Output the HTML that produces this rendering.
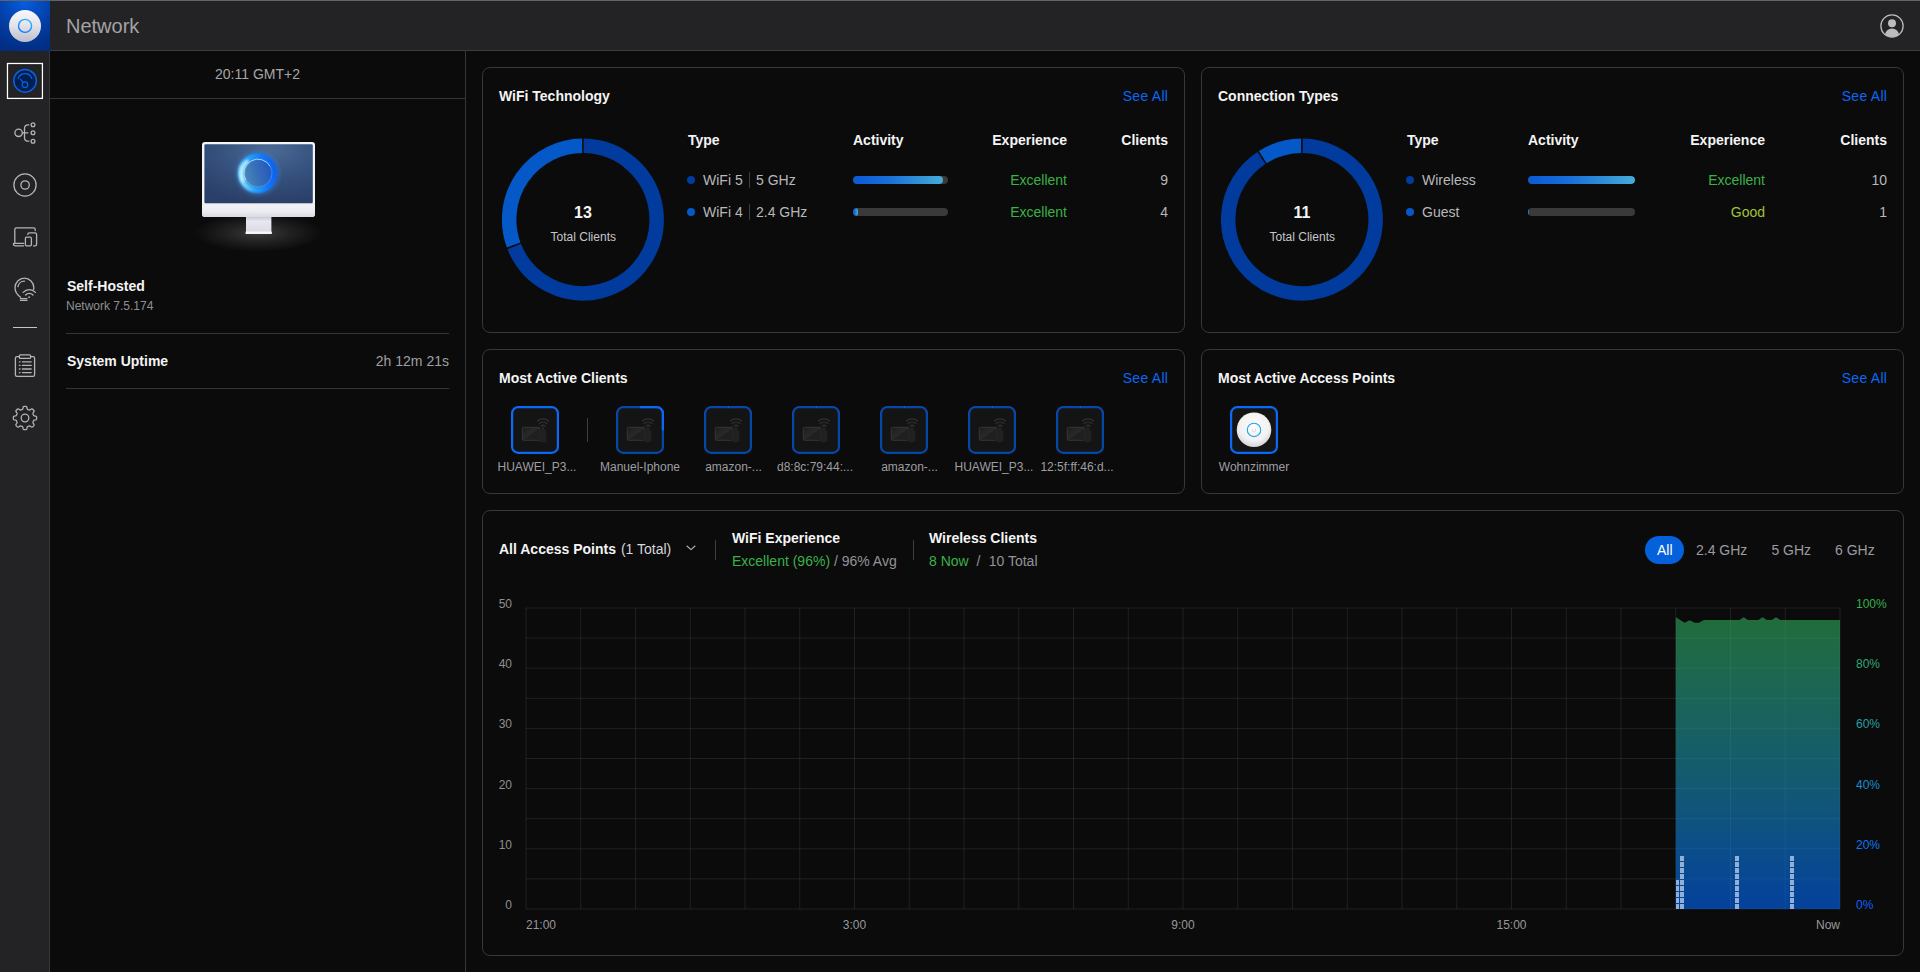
<!DOCTYPE html>
<html lang="en">
<head>
<meta charset="utf-8">
<title>Network</title>
<style>
*{box-sizing:border-box;margin:0;padding:0}
html,body{width:1920px;height:972px;overflow:hidden;background:#0b0b0b}
body{font-family:"Liberation Sans",sans-serif;font-size:14px;color:#f4f4f5;position:relative;-webkit-font-smoothing:antialiased}
.abs{position:absolute}
.t{position:absolute;white-space:nowrap;line-height:16px}
.b{font-weight:bold}
/* header */
#topline{left:0;top:0;width:1920px;height:1px;background:#626367}
#header{left:0;top:1px;width:1920px;height:50px;background:#232325;border-bottom:1px solid #3a3b41}
#logo{left:0;top:1px;width:50px;height:50px;background:radial-gradient(circle 58px at 50% 0%,#0560e0 0%,#044dc2 25%,#033da2 52%,#022f88 82%,#022b7e 100%)}
#sidebar{left:0;top:51px;width:50px;height:921px;background:#232325;border-right:1px solid #36373c}
#lp-border{left:465px;top:51px;width:1px;height:921px;background:#35363b}
.hl{position:absolute;height:1px;background:#35363b}
.card{position:absolute;border:1px solid #36373c;border-radius:8px}
.link{color:#0a68f5;letter-spacing:0.28px;margin-right:-0.28px}
.g{color:#9c9ca0}
.green{color:#39b24a}
.sep{position:absolute;width:1px;background:#3d3d42}
.track{position:absolute;height:8px;border-radius:4px;background:#3a3a3a;overflow:hidden}
.fill{position:absolute;left:0;top:0;height:8px;border-radius:4px;background:linear-gradient(90deg,#0a5ad6 0%,#1a6fd8 40%,#46acd8 100%)}
.dot{position:absolute;width:8px;height:8px;border-radius:50%}
.dev{position:absolute;width:48px;height:48px}
.lbl{position:absolute;font-size:12px;line-height:14px;color:#9e9ea2;white-space:nowrap;text-align:center;transform:translateX(-50%)}
.ax{position:absolute;font-size:12px;line-height:14px;color:#8e8e92;white-space:nowrap}
.g2{color:#939397}
.xl{color:#98989c}
</style>
</head>
<body>
<div class="abs" id="header"></div>
<div class="abs" id="topline"></div>
<div class="abs" id="logo"></div>
<div class="abs" id="sidebar"></div>
<div class="abs" id="lp-border"></div>
<!-- header content -->
<svg class="abs" style="left:0;top:1px" width="50" height="50" viewBox="0 0 50 50">
  <defs>
    <linearGradient id="lg1" x1="0" y1="0" x2="0" y2="1"><stop offset="0" stop-color="#f8f8fb"/><stop offset="0.5" stop-color="#e2e3e9"/><stop offset="1" stop-color="#bcbec9"/></linearGradient><linearGradient id="lg2" x1="0.2" y1="1" x2="0.8" y2="0"><stop offset="0" stop-color="#0a72ff"/><stop offset="1" stop-color="#38b8ff"/></linearGradient>
  </defs>
  <circle cx="25" cy="25" r="16" fill="url(#lg1)"/>
  <circle cx="25.05" cy="24.9" r="6.5" fill="none" stroke="url(#lg2)" stroke-width="1.4"/>
</svg>
<div class="t" style="left:66px;top:14px;font-size:20px;line-height:24px;color:#a3a3a6">Network</div>
<svg class="abs" style="left:1878.15px;top:12px" width="28" height="28" viewBox="0 0 28 28">
  <defs><clipPath id="uc"><circle cx="14" cy="14" r="11"/></clipPath></defs>
  <circle cx="14" cy="14" r="11.1" fill="none" stroke="#bcbcc0" stroke-width="1.3"/>
  <circle cx="14" cy="11.2" r="4" fill="#bcbcc0"/>
  <ellipse cx="14" cy="23.5" rx="7" ry="7" fill="#bcbcc0" clip-path="url(#uc)"/>
</svg>

<!-- sidebar icons -->
<svg class="abs" style="left:5px;top:61px" width="40" height="40" viewBox="5 61 40 40"><rect x="7.55" y="63.55" width="34.8" height="34.8" fill="none" stroke="#ffffff" stroke-width="1.4"/><rect x="8.7" y="64.7" width="32.5" height="32.5" fill="none" stroke="#0a0a0c" stroke-width="0.8" opacity="0.55"/></svg>
<svg class="abs" style="left:0;top:51px" width="50" height="400" viewBox="0 51 50 400" fill="none" stroke="#b4b4b8" stroke-width="1.3" stroke-linecap="round" stroke-linejoin="round">
  <!-- dashboard (active) -->
  <circle cx="25.05" cy="80.85" r="11.3" fill="#001f50" stroke="#0862e4" stroke-width="1.5"/>
  <circle cx="25" cy="84.7" r="2.8" stroke="#0862e4" stroke-width="1.2"/>
  <path d="M23.1 82.5 L20.5 79.2" stroke="#0862e4" stroke-width="1.2"/>
  <path d="M18.2 78.7 A7.1 7.1 0 0 1 31.8 78.7" stroke="#0862e4" stroke-width="1.2"/>
  <!-- topology -->
  <circle cx="18.6" cy="132.8" r="3.7"/>
  <circle cx="33" cy="124.8" r="1.9"/>
  <circle cx="33" cy="132.8" r="1.9"/>
  <circle cx="33" cy="141.2" r="1.9"/>
  <path d="M22.4 132.8 H27.9"/>
  <path d="M28.8 124.8 H28.2 Q24.5 124.8 24.5 128.6 V137.4 Q24.5 141.2 28.2 141.2 H28.8"/>
  <!-- disc -->
  <circle cx="25" cy="185" r="11.1"/>
  <circle cx="25.1" cy="185" r="4.2"/>
  <!-- devices -->
  <path d="M14.8 242.6 V229.4 Q14.8 227.8 16.4 227.8 H33.6 Q35.2 227.8 35.2 229.4 V230.6"/>
  <path d="M23.6 243.4 H14 Q13.4 243.4 13.4 244 Q13.4 245.8 15.2 245.8 H23.6"/>
  <path d="M27.8 234.4 Q27.8 232.8 29.4 232.8 H35 Q36.6 232.8 36.6 234.4 V244.2 Q36.6 245.8 35 245.8 H33.6"/>
  <rect x="25.4" y="237.2" width="6" height="8.6" rx="1.2"/>
  <!-- bulb/wifi -->
  <path d="M20.6 297.2 Q15 293.6 15 287.6 A9.4 9.4 0 0 1 33.8 287.6 Q33.8 288.6 33.6 289.4"/>
  <path d="M18 286.6 A6.4 6.4 0 0 1 24.4 281.2"/>
  <path d="M20.4 298.6 H27" stroke-width="1.2"/>
  <path d="M20.4 300.4 H27" stroke-width="1.2"/>
  <path d="M23.2 292.4 A8.2 8.2 0 0 1 35.4 292.4"/>
  <path d="M25.6 295 A4.9 4.9 0 0 1 33 295"/>
  <circle cx="29.2" cy="297.2" r="0.9" fill="#b4b4b8" stroke="none"/>
  <!-- divider -->
  <path d="M13 327.5 H37" stroke="#c4c4c8" stroke-width="1" stroke-linecap="butt"/>
  <!-- clipboard -->
  <path d="M19.4 356.6 H17 Q15.4 356.6 15.4 358.2 V374.8 Q15.4 376.4 17 376.4 H33 Q34.6 376.4 34.6 374.8 V358.2 Q34.6 356.6 33 356.6 H30.6"/>
  <rect x="19.4" y="354.8" width="11.2" height="3.6" rx="1"/>
  <path d="M22.4 361.8 H31.2 M22.4 365.4 H31.2 M22.4 369 H31.2 M22.4 372.6 H31.2"/>
  <path d="M19.4 361.8 H20 M19.4 365.4 H20 M19.4 369 H20 M19.4 372.6 H20"/>
  <!-- gear -->
  <circle cx="25" cy="418" r="3.8"/>
  <path d="M25.00 406.35 L25.30 406.36 L25.61 406.37 L25.91 406.41 L26.21 406.48 L26.50 406.62 L26.75 406.93 L26.94 407.52 L27.07 408.28 L27.19 408.87 L27.36 409.19 L27.56 409.35 L27.77 409.46 L27.99 409.56 L28.21 409.64 L28.43 409.73 L28.64 409.82 L28.86 409.91 L29.07 410.00 L29.30 410.08 L29.56 410.10 L29.91 409.99 L30.41 409.67 L31.04 409.21 L31.59 408.93 L31.99 408.90 L32.29 409.00 L32.55 409.16 L32.79 409.35 L33.02 409.55 L33.24 409.76 L33.45 409.98 L33.65 410.21 L33.84 410.45 L34.00 410.71 L34.10 411.01 L34.07 411.41 L33.79 411.96 L33.33 412.59 L33.01 413.09 L32.90 413.44 L32.92 413.70 L33.00 413.93 L33.09 414.14 L33.18 414.36 L33.27 414.57 L33.36 414.79 L33.44 415.01 L33.54 415.23 L33.65 415.44 L33.81 415.64 L34.13 415.81 L34.72 415.93 L35.48 416.06 L36.07 416.25 L36.38 416.50 L36.52 416.79 L36.59 417.09 L36.63 417.39 L36.64 417.70 L36.65 418.00 L36.64 418.30 L36.63 418.61 L36.59 418.91 L36.52 419.21 L36.38 419.50 L36.07 419.75 L35.48 419.94 L34.72 420.07 L34.13 420.19 L33.81 420.36 L33.65 420.56 L33.54 420.77 L33.44 420.99 L33.36 421.21 L33.27 421.43 L33.18 421.64 L33.09 421.86 L33.00 422.07 L32.92 422.30 L32.90 422.56 L33.01 422.91 L33.33 423.41 L33.79 424.04 L34.07 424.59 L34.10 424.99 L34.00 425.29 L33.84 425.55 L33.65 425.79 L33.45 426.02 L33.24 426.24 L33.02 426.45 L32.79 426.65 L32.55 426.84 L32.29 427.00 L31.99 427.10 L31.59 427.07 L31.04 426.79 L30.41 426.33 L29.91 426.01 L29.56 425.90 L29.30 425.92 L29.07 426.00 L28.86 426.09 L28.64 426.18 L28.43 426.27 L28.21 426.36 L27.99 426.44 L27.77 426.54 L27.56 426.65 L27.36 426.81 L27.19 427.13 L27.07 427.72 L26.94 428.48 L26.75 429.07 L26.50 429.38 L26.21 429.52 L25.91 429.59 L25.61 429.63 L25.30 429.64 L25.00 429.65 L24.70 429.64 L24.39 429.63 L24.09 429.59 L23.79 429.52 L23.50 429.38 L23.25 429.07 L23.06 428.48 L22.93 427.72 L22.81 427.13 L22.64 426.81 L22.44 426.65 L22.23 426.54 L22.01 426.44 L21.79 426.36 L21.57 426.27 L21.36 426.18 L21.14 426.09 L20.93 426.00 L20.70 425.92 L20.44 425.90 L20.09 426.01 L19.59 426.33 L18.96 426.79 L18.41 427.07 L18.01 427.10 L17.71 427.00 L17.45 426.84 L17.21 426.65 L16.98 426.45 L16.76 426.24 L16.55 426.02 L16.35 425.79 L16.16 425.55 L16.00 425.29 L15.90 424.99 L15.93 424.59 L16.21 424.04 L16.67 423.41 L16.99 422.91 L17.10 422.56 L17.08 422.30 L17.00 422.07 L16.91 421.86 L16.82 421.64 L16.73 421.43 L16.64 421.21 L16.56 420.99 L16.46 420.77 L16.35 420.56 L16.19 420.36 L15.87 420.19 L15.28 420.07 L14.52 419.94 L13.93 419.75 L13.62 419.50 L13.48 419.21 L13.41 418.91 L13.37 418.61 L13.36 418.30 L13.35 418.00 L13.36 417.70 L13.37 417.39 L13.41 417.09 L13.48 416.79 L13.62 416.50 L13.93 416.25 L14.52 416.06 L15.28 415.93 L15.87 415.81 L16.19 415.64 L16.35 415.44 L16.46 415.23 L16.56 415.01 L16.64 414.79 L16.73 414.57 L16.82 414.36 L16.91 414.14 L17.00 413.93 L17.08 413.70 L17.10 413.44 L16.99 413.09 L16.67 412.59 L16.21 411.96 L15.93 411.41 L15.90 411.01 L16.00 410.71 L16.16 410.45 L16.35 410.21 L16.55 409.98 L16.76 409.76 L16.98 409.55 L17.21 409.35 L17.45 409.16 L17.71 409.00 L18.01 408.90 L18.41 408.93 L18.96 409.21 L19.59 409.67 L20.09 409.99 L20.44 410.10 L20.70 410.08 L20.93 410.00 L21.14 409.91 L21.36 409.82 L21.57 409.73 L21.79 409.64 L22.01 409.56 L22.23 409.46 L22.44 409.35 L22.64 409.19 L22.81 408.87 L22.93 408.28 L23.06 407.52 L23.25 406.93 L23.50 406.62 L23.79 406.48 L24.09 406.41 L24.39 406.37 L24.70 406.36 Z"/>
</svg>
<!-- left panel -->
<div class="t g" style="left:50px;width:415px;top:66px;text-align:center;color:#a6a6a9">20:11 GMT+2</div>
<div class="hl" style="left:50px;top:98px;width:415px"></div>
<svg class="abs" style="left:180px;top:130px" width="160" height="130" viewBox="180 130 160 130">
  <defs>
    <radialGradient id="glow" cx="0.5" cy="0.5" r="0.5"><stop offset="0" stop-color="#fff" stop-opacity="0.20"/><stop offset="0.5" stop-color="#fff" stop-opacity="0.09"/><stop offset="1" stop-color="#fff" stop-opacity="0"/></radialGradient>
    <radialGradient id="scr" cx="0.6" cy="0.1" r="0.9"><stop offset="0" stop-color="#4a6a94"/><stop offset="0.5" stop-color="#36527e"/><stop offset="1" stop-color="#2a4068"/></radialGradient>
    <linearGradient id="chin" x1="0" y1="0" x2="0" y2="1"><stop offset="0" stop-color="#e2e2ea"/><stop offset="0.12" stop-color="#f2f2f6"/><stop offset="0.6" stop-color="#ebebf1"/><stop offset="1" stop-color="#dadae3"/></linearGradient><linearGradient id="chin2" x1="0" y1="0" x2="0" y2="1"><stop offset="0" stop-color="#e8e8ef"/><stop offset="1" stop-color="#d4d4de"/></linearGradient><linearGradient id="ringin" x1="0" y1="0.7" x2="1" y2="0.4"><stop offset="0" stop-color="#4f92bc" stop-opacity="0.85"/><stop offset="0.5" stop-color="#3870b8" stop-opacity="0.8"/><stop offset="1" stop-color="#2054c0" stop-opacity="0.9"/></linearGradient><filter id="bl0" x="-50%" y="-50%" width="200%" height="200%"><feGaussianBlur stdDeviation="0.5"/></filter>
    <linearGradient id="stand" x1="0" y1="0" x2="0" y2="1"><stop offset="0" stop-color="#c4c4d0"/><stop offset="0.3" stop-color="#e8e8f0"/><stop offset="0.85" stop-color="#dcdce6"/><stop offset="1" stop-color="#f8f8fc"/></linearGradient>
    <radialGradient id="ringglow" cx="0.5" cy="0.5" r="0.5"><stop offset="0" stop-color="#2a72d8" stop-opacity="0.5"/><stop offset="0.6" stop-color="#2f80ee" stop-opacity="0.5"/><stop offset="0.8" stop-color="#3a86ee" stop-opacity="0.28"/><stop offset="1" stop-color="#4a8cee" stop-opacity="0"/></radialGradient>
    <linearGradient id="ringst" x1="0" y1="0.6" x2="1" y2="0.4"><stop offset="0" stop-color="#7fe0ff"/><stop offset="0.3" stop-color="#2aa8ff"/><stop offset="0.7" stop-color="#0f7aff"/><stop offset="1" stop-color="#0a62f0"/></linearGradient>
    <filter id="bl1" x="-50%" y="-50%" width="200%" height="200%"><feGaussianBlur stdDeviation="1.1"/></filter>
    <filter id="bl2" x="-50%" y="-50%" width="200%" height="200%"><feGaussianBlur stdDeviation="5"/></filter>
  </defs>
  <ellipse cx="258.5" cy="233" rx="64" ry="19" fill="url(#glow)"/>
  <rect x="246" y="216" width="25.4" height="18" fill="url(#stand)"/>
  <rect x="245.6" y="231.6" width="26.2" height="2.4" fill="#f6f6fa"/>
  <rect x="202" y="142" width="113" height="75" rx="3" fill="#f4f4f8"/>
  <clipPath id="imc"><rect x="202" y="142" width="113" height="75" rx="3"/></clipPath><rect x="202" y="203.4" width="113" height="13.6" fill="url(#chin)" clip-path="url(#imc)"/>
  <rect x="204.4" y="144.2" width="108.4" height="59" rx="1.2" fill="url(#scr)"/>
  <circle cx="257.7" cy="173.2" r="25" fill="url(#ringglow)"/>
  <circle cx="258" cy="173.6" r="14" fill="url(#ringin)"/>
  <circle cx="257.7" cy="173.3" r="16.9" fill="none" stroke="url(#ringst)" stroke-width="5.6" filter="url(#bl1)"/>
  <path d="M243.6 181.6 A16 16 0 0 1 248.4 160.6" fill="none" stroke="#d8f8ff" stroke-width="2.6" filter="url(#bl1)" opacity="0.9"/>
  <path d="M245.6 180 A14 14 0 0 1 270.2 166.4" fill="none" stroke="#c4f0ff" stroke-width="0.9" opacity="0.85" filter="url(#bl0)"/><path d="M270.2 166.4 A14 14 0 0 1 245.6 180" fill="none" stroke="#9fdcff" stroke-width="0.8" opacity="0.35" filter="url(#bl0)"/>
</svg>
<div class="t b" style="left:67px;top:278px">Self-Hosted</div>
<div class="t" style="left:66px;top:299px;font-size:12px;line-height:14px;color:#8f8f93">Network 7.5.174</div>
<div class="hl" style="left:66px;top:333px;width:383px"></div>
<div class="t b" style="left:67px;top:353px">System Uptime</div>
<div class="t" style="right:1471px;top:353px;color:#a0a0a4">2h 12m 21s</div>
<div class="hl" style="left:66px;top:388px;width:383px"></div>
<!-- top cards -->
<div class="card" style="left:482px;top:67px;width:703px;height:266px"></div>
<div class="t b" style="left:499px;top:88px">WiFi Technology</div>
<div class="t link" style="right:752px;top:88px">See All</div>
<svg class="abs" style="left:492px;top:130px" width="180" height="180" viewBox="492 130 180 180"><path d="M583.71 145.85 A73.75 73.75 0 1 1 514.23 246.51" fill="none" stroke="#003b9d" stroke-width="14.5"/><path d="M513.66 244.99 A73.75 73.75 0 0 1 582.09 145.85" fill="none" stroke="#0558c8" stroke-width="14.5"/></svg>
<div class="t b" style="left:532.9px;width:100px;text-align:center;top:204px;font-size:16px;line-height:18px">13</div>
<div class="t" style="left:533.3px;width:100px;text-align:center;top:230px;font-size:12px;line-height:14px;color:#c6c6ca">Total Clients</div>
<div class="t b" style="left:688px;top:132px">Type</div>
<div class="t b" style="left:853px;top:132px">Activity</div>
<div class="t b" style="right:853px;top:132px">Experience</div>
<div class="t b" style="right:752px;top:132px">Clients</div>
<div class="dot" style="left:687px;top:176px;background:#003b9d"></div>
<div class="t" style="left:703px;top:172px;color:#b8b8bc">WiFi 5</div>
<div class="sep" style="left:749px;top:172px;height:16px"></div>
<div class="t" style="left:756px;top:172px;color:#b8b8bc">5 GHz</div>
<div class="track" style="left:853px;top:176px;width:95px"><div class="fill" style="width:90px"></div></div>
<div class="t" style="right:853px;top:172px;color:#39b24a">Excellent</div>
<div class="t" style="right:752px;top:172px;color:#b8b8bc">9</div>
<div class="dot" style="left:687px;top:208px;background:#0558c8"></div>
<div class="t" style="left:703px;top:204px;color:#b8b8bc">WiFi 4</div>
<div class="sep" style="left:749px;top:204px;height:16px"></div>
<div class="t" style="left:756px;top:204px;color:#b8b8bc">2.4 GHz</div>
<div class="track" style="left:853px;top:208px;width:95px"><div class="fill" style="width:5px"></div></div>
<div class="t" style="right:853px;top:204px;color:#39b24a">Excellent</div>
<div class="t" style="right:752px;top:204px;color:#b8b8bc">4</div>
<div class="card" style="left:1201px;top:67px;width:703px;height:266px"></div>
<div class="t b" style="left:1218px;top:88px">Connection Types</div>
<div class="t link" style="right:33px;top:88px">See All</div>
<svg class="abs" style="left:1211px;top:130px" width="180" height="180" viewBox="1211 130 180 180"><path d="M1302.71 145.85 A73.75 73.75 0 1 1 1261.35 158.00" fill="none" stroke="#003b9d" stroke-width="14.5"/><path d="M1262.71 157.12 A73.75 73.75 0 0 1 1301.09 145.85" fill="none" stroke="#0558c8" stroke-width="14.5"/></svg>
<div class="t b" style="left:1251.9px;width:100px;text-align:center;top:204px;font-size:16px;line-height:18px">11</div>
<div class="t" style="left:1252.3px;width:100px;text-align:center;top:230px;font-size:12px;line-height:14px;color:#c6c6ca">Total Clients</div>
<div class="t b" style="left:1407px;top:132px">Type</div>
<div class="t b" style="left:1528px;top:132px">Activity</div>
<div class="t b" style="right:155px;top:132px">Experience</div>
<div class="t b" style="right:33px;top:132px">Clients</div>
<div class="dot" style="left:1406px;top:176px;background:#003b9d"></div>
<div class="t" style="left:1422px;top:172px;color:#b8b8bc">Wireless</div>
<div class="track" style="left:1528px;top:176px;width:107px"><div class="fill" style="width:107px"></div></div>
<div class="t" style="right:155px;top:172px;color:#39b24a">Excellent</div>
<div class="t" style="right:33px;top:172px;color:#b8b8bc">10</div>
<div class="dot" style="left:1406px;top:208px;background:#0558c8"></div>
<div class="t" style="left:1422px;top:204px;color:#b8b8bc">Guest</div>
<div class="track" style="left:1528px;top:208px;width:107px"><div class="fill" style="width:0.6px"></div></div>
<div class="t" style="right:155px;top:204px;color:#a0c435">Good</div>
<div class="t" style="right:33px;top:204px;color:#b8b8bc">1</div>
<!-- cards 3/4 -->
<div class="card" style="left:482px;top:349px;width:703px;height:145px"></div>
<div class="t b" style="left:499px;top:370px">Most Active Clients</div>
<div class="t link" style="right:752px;top:370px">See All</div>
<svg class="dev" style="left:511px;top:406px" viewBox="0 0 48 48"><rect x="1" y="1" width="46" height="46" rx="6.5" fill="#141414"/><path d="M24.0 1.1 H40.699999999999996 A6.2 6.2 0 0 1 46.9 7.300000000000001 V40.699999999999996 A6.2 6.2 0 0 1 40.699999999999996 46.9 H7.300000000000001 A6.2 6.2 0 0 1 1.1 40.699999999999996 V7.300000000000001 A6.2 6.2 0 0 1 7.300000000000001 1.1 Z" fill="none" stroke="#0a6af5" stroke-width="2.2"/><defs><linearGradient id="cg0" x1="0" y1="0" x2="1" y2="1"><stop offset="0" stop-color="#1c1c1d"/><stop offset="0.5" stop-color="#2a2a2b"/><stop offset="0.52" stop-color="#202021"/><stop offset="1" stop-color="#1e1e1f"/></linearGradient></defs><rect x="11.3" y="21.3" width="17.4" height="13" rx="1" fill="url(#cg0)" stroke="#38383c" stroke-width="0.9"/><rect x="28.4" y="23.6" width="6.6" height="12.4" rx="1.2" fill="#212122" stroke="#262628" stroke-width="0.5"/><g fill="none" stroke="#303034" stroke-width="1.3" stroke-linecap="round"><path d="M26.4 15 A8.4 8.4 0 0 1 37.6 15"/><path d="M28.2 17.6 A5.6 5.6 0 0 1 35.8 17.6"/><path d="M30 20.2 A2.9 2.9 0 0 1 34 20.2"/></g><circle cx="32" cy="22.2" r="0.9" fill="#323236"/></svg>
<div class="lbl" style="left:537px;top:460px">HUAWEI_P3...</div>
<svg class="dev" style="left:616px;top:406px" viewBox="0 0 48 48"><rect x="1" y="1" width="46" height="46" rx="6.5" fill="#141414"/><path d="M24.0 1.1 H40.699999999999996 A6.2 6.2 0 0 1 46.9 7.300000000000001 V40.699999999999996 A6.2 6.2 0 0 1 40.699999999999996 46.9 H7.300000000000001 A6.2 6.2 0 0 1 1.1 40.699999999999996 V7.300000000000001 A6.2 6.2 0 0 1 7.300000000000001 1.1 Z" fill="none" stroke="#0747a6" stroke-width="2.2"/><path d="M24.0 1.1 H40.699999999999996 A6.2 6.2 0 0 1 46.9 7.300000000000001 V40.699999999999996 A6.2 6.2 0 0 1 40.699999999999996 46.9 H7.300000000000001 A6.2 6.2 0 0 1 1.1 40.699999999999996 V7.300000000000001 A6.2 6.2 0 0 1 7.300000000000001 1.1 Z" fill="none" stroke="#0a6af5" stroke-width="2.2" stroke-dasharray="43.14 172.56"/><defs><linearGradient id="cg1" x1="0" y1="0" x2="1" y2="1"><stop offset="0" stop-color="#1c1c1d"/><stop offset="0.5" stop-color="#2a2a2b"/><stop offset="0.52" stop-color="#202021"/><stop offset="1" stop-color="#1e1e1f"/></linearGradient></defs><rect x="11.3" y="21.3" width="17.4" height="13" rx="1" fill="url(#cg1)" stroke="#38383c" stroke-width="0.9"/><rect x="28.4" y="23.6" width="6.6" height="12.4" rx="1.2" fill="#212122" stroke="#262628" stroke-width="0.5"/><g fill="none" stroke="#303034" stroke-width="1.3" stroke-linecap="round"><path d="M26.4 15 A8.4 8.4 0 0 1 37.6 15"/><path d="M28.2 17.6 A5.6 5.6 0 0 1 35.8 17.6"/><path d="M30 20.2 A2.9 2.9 0 0 1 34 20.2"/></g><circle cx="32" cy="22.2" r="0.9" fill="#323236"/></svg>
<div class="lbl" style="left:640px;top:460px">Manuel-Iphone</div>
<svg class="dev" style="left:704px;top:406px" viewBox="0 0 48 48"><rect x="1" y="1" width="46" height="46" rx="6.5" fill="#141414"/><path d="M24.0 1.1 H40.699999999999996 A6.2 6.2 0 0 1 46.9 7.300000000000001 V40.699999999999996 A6.2 6.2 0 0 1 40.699999999999996 46.9 H7.300000000000001 A6.2 6.2 0 0 1 1.1 40.699999999999996 V7.300000000000001 A6.2 6.2 0 0 1 7.300000000000001 1.1 Z" fill="none" stroke="#0747a6" stroke-width="2.2"/><path d="M24.0 1.1 H40.699999999999996 A6.2 6.2 0 0 1 46.9 7.300000000000001 V40.699999999999996 A6.2 6.2 0 0 1 40.699999999999996 46.9 H7.300000000000001 A6.2 6.2 0 0 1 1.1 40.699999999999996 V7.300000000000001 A6.2 6.2 0 0 1 7.300000000000001 1.1 Z" fill="none" stroke="#0a6af5" stroke-width="2.2" stroke-dasharray="0.69 172.56"/><defs><linearGradient id="cg2" x1="0" y1="0" x2="1" y2="1"><stop offset="0" stop-color="#1c1c1d"/><stop offset="0.5" stop-color="#2a2a2b"/><stop offset="0.52" stop-color="#202021"/><stop offset="1" stop-color="#1e1e1f"/></linearGradient></defs><rect x="11.3" y="21.3" width="17.4" height="13" rx="1" fill="url(#cg2)" stroke="#38383c" stroke-width="0.9"/><rect x="28.4" y="23.6" width="6.6" height="12.4" rx="1.2" fill="#212122" stroke="#262628" stroke-width="0.5"/><g fill="none" stroke="#303034" stroke-width="1.3" stroke-linecap="round"><path d="M26.4 15 A8.4 8.4 0 0 1 37.6 15"/><path d="M28.2 17.6 A5.6 5.6 0 0 1 35.8 17.6"/><path d="M30 20.2 A2.9 2.9 0 0 1 34 20.2"/></g><circle cx="32" cy="22.2" r="0.9" fill="#323236"/></svg>
<div class="lbl" style="left:733.5px;top:460px">amazon-...</div>
<svg class="dev" style="left:792px;top:406px" viewBox="0 0 48 48"><rect x="1" y="1" width="46" height="46" rx="6.5" fill="#141414"/><path d="M24.0 1.1 H40.699999999999996 A6.2 6.2 0 0 1 46.9 7.300000000000001 V40.699999999999996 A6.2 6.2 0 0 1 40.699999999999996 46.9 H7.300000000000001 A6.2 6.2 0 0 1 1.1 40.699999999999996 V7.300000000000001 A6.2 6.2 0 0 1 7.300000000000001 1.1 Z" fill="none" stroke="#0747a6" stroke-width="2.2"/><path d="M24.0 1.1 H40.699999999999996 A6.2 6.2 0 0 1 46.9 7.300000000000001 V40.699999999999996 A6.2 6.2 0 0 1 40.699999999999996 46.9 H7.300000000000001 A6.2 6.2 0 0 1 1.1 40.699999999999996 V7.300000000000001 A6.2 6.2 0 0 1 7.300000000000001 1.1 Z" fill="none" stroke="#0a6af5" stroke-width="2.2" stroke-dasharray="0.69 172.56"/><defs><linearGradient id="cg3" x1="0" y1="0" x2="1" y2="1"><stop offset="0" stop-color="#1c1c1d"/><stop offset="0.5" stop-color="#2a2a2b"/><stop offset="0.52" stop-color="#202021"/><stop offset="1" stop-color="#1e1e1f"/></linearGradient></defs><rect x="11.3" y="21.3" width="17.4" height="13" rx="1" fill="url(#cg3)" stroke="#38383c" stroke-width="0.9"/><rect x="28.4" y="23.6" width="6.6" height="12.4" rx="1.2" fill="#212122" stroke="#262628" stroke-width="0.5"/><g fill="none" stroke="#303034" stroke-width="1.3" stroke-linecap="round"><path d="M26.4 15 A8.4 8.4 0 0 1 37.6 15"/><path d="M28.2 17.6 A5.6 5.6 0 0 1 35.8 17.6"/><path d="M30 20.2 A2.9 2.9 0 0 1 34 20.2"/></g><circle cx="32" cy="22.2" r="0.9" fill="#323236"/></svg>
<div class="lbl" style="left:815px;top:460px">d8:8c:79:44:...</div>
<svg class="dev" style="left:880px;top:406px" viewBox="0 0 48 48"><rect x="1" y="1" width="46" height="46" rx="6.5" fill="#141414"/><path d="M24.0 1.1 H40.699999999999996 A6.2 6.2 0 0 1 46.9 7.300000000000001 V40.699999999999996 A6.2 6.2 0 0 1 40.699999999999996 46.9 H7.300000000000001 A6.2 6.2 0 0 1 1.1 40.699999999999996 V7.300000000000001 A6.2 6.2 0 0 1 7.300000000000001 1.1 Z" fill="none" stroke="#0747a6" stroke-width="2.2"/><path d="M24.0 1.1 H40.699999999999996 A6.2 6.2 0 0 1 46.9 7.300000000000001 V40.699999999999996 A6.2 6.2 0 0 1 40.699999999999996 46.9 H7.300000000000001 A6.2 6.2 0 0 1 1.1 40.699999999999996 V7.300000000000001 A6.2 6.2 0 0 1 7.300000000000001 1.1 Z" fill="none" stroke="#0a6af5" stroke-width="2.2" stroke-dasharray="0.69 172.56"/><defs><linearGradient id="cg4" x1="0" y1="0" x2="1" y2="1"><stop offset="0" stop-color="#1c1c1d"/><stop offset="0.5" stop-color="#2a2a2b"/><stop offset="0.52" stop-color="#202021"/><stop offset="1" stop-color="#1e1e1f"/></linearGradient></defs><rect x="11.3" y="21.3" width="17.4" height="13" rx="1" fill="url(#cg4)" stroke="#38383c" stroke-width="0.9"/><rect x="28.4" y="23.6" width="6.6" height="12.4" rx="1.2" fill="#212122" stroke="#262628" stroke-width="0.5"/><g fill="none" stroke="#303034" stroke-width="1.3" stroke-linecap="round"><path d="M26.4 15 A8.4 8.4 0 0 1 37.6 15"/><path d="M28.2 17.6 A5.6 5.6 0 0 1 35.8 17.6"/><path d="M30 20.2 A2.9 2.9 0 0 1 34 20.2"/></g><circle cx="32" cy="22.2" r="0.9" fill="#323236"/></svg>
<div class="lbl" style="left:909.5px;top:460px">amazon-...</div>
<svg class="dev" style="left:968px;top:406px" viewBox="0 0 48 48"><rect x="1" y="1" width="46" height="46" rx="6.5" fill="#141414"/><path d="M24.0 1.1 H40.699999999999996 A6.2 6.2 0 0 1 46.9 7.300000000000001 V40.699999999999996 A6.2 6.2 0 0 1 40.699999999999996 46.9 H7.300000000000001 A6.2 6.2 0 0 1 1.1 40.699999999999996 V7.300000000000001 A6.2 6.2 0 0 1 7.300000000000001 1.1 Z" fill="none" stroke="#0747a6" stroke-width="2.2"/><path d="M24.0 1.1 H40.699999999999996 A6.2 6.2 0 0 1 46.9 7.300000000000001 V40.699999999999996 A6.2 6.2 0 0 1 40.699999999999996 46.9 H7.300000000000001 A6.2 6.2 0 0 1 1.1 40.699999999999996 V7.300000000000001 A6.2 6.2 0 0 1 7.300000000000001 1.1 Z" fill="none" stroke="#0a6af5" stroke-width="2.2" stroke-dasharray="0.69 172.56"/><defs><linearGradient id="cg5" x1="0" y1="0" x2="1" y2="1"><stop offset="0" stop-color="#1c1c1d"/><stop offset="0.5" stop-color="#2a2a2b"/><stop offset="0.52" stop-color="#202021"/><stop offset="1" stop-color="#1e1e1f"/></linearGradient></defs><rect x="11.3" y="21.3" width="17.4" height="13" rx="1" fill="url(#cg5)" stroke="#38383c" stroke-width="0.9"/><rect x="28.4" y="23.6" width="6.6" height="12.4" rx="1.2" fill="#212122" stroke="#262628" stroke-width="0.5"/><g fill="none" stroke="#303034" stroke-width="1.3" stroke-linecap="round"><path d="M26.4 15 A8.4 8.4 0 0 1 37.6 15"/><path d="M28.2 17.6 A5.6 5.6 0 0 1 35.8 17.6"/><path d="M30 20.2 A2.9 2.9 0 0 1 34 20.2"/></g><circle cx="32" cy="22.2" r="0.9" fill="#323236"/></svg>
<div class="lbl" style="left:994px;top:460px">HUAWEI_P3...</div>
<svg class="dev" style="left:1056px;top:406px" viewBox="0 0 48 48"><rect x="1" y="1" width="46" height="46" rx="6.5" fill="#141414"/><path d="M24.0 1.1 H40.699999999999996 A6.2 6.2 0 0 1 46.9 7.300000000000001 V40.699999999999996 A6.2 6.2 0 0 1 40.699999999999996 46.9 H7.300000000000001 A6.2 6.2 0 0 1 1.1 40.699999999999996 V7.300000000000001 A6.2 6.2 0 0 1 7.300000000000001 1.1 Z" fill="none" stroke="#0747a6" stroke-width="2.2"/><path d="M24.0 1.1 H40.699999999999996 A6.2 6.2 0 0 1 46.9 7.300000000000001 V40.699999999999996 A6.2 6.2 0 0 1 40.699999999999996 46.9 H7.300000000000001 A6.2 6.2 0 0 1 1.1 40.699999999999996 V7.300000000000001 A6.2 6.2 0 0 1 7.300000000000001 1.1 Z" fill="none" stroke="#0a6af5" stroke-width="2.2" stroke-dasharray="0.69 172.56"/><defs><linearGradient id="cg6" x1="0" y1="0" x2="1" y2="1"><stop offset="0" stop-color="#1c1c1d"/><stop offset="0.5" stop-color="#2a2a2b"/><stop offset="0.52" stop-color="#202021"/><stop offset="1" stop-color="#1e1e1f"/></linearGradient></defs><rect x="11.3" y="21.3" width="17.4" height="13" rx="1" fill="url(#cg6)" stroke="#38383c" stroke-width="0.9"/><rect x="28.4" y="23.6" width="6.6" height="12.4" rx="1.2" fill="#212122" stroke="#262628" stroke-width="0.5"/><g fill="none" stroke="#303034" stroke-width="1.3" stroke-linecap="round"><path d="M26.4 15 A8.4 8.4 0 0 1 37.6 15"/><path d="M28.2 17.6 A5.6 5.6 0 0 1 35.8 17.6"/><path d="M30 20.2 A2.9 2.9 0 0 1 34 20.2"/></g><circle cx="32" cy="22.2" r="0.9" fill="#323236"/></svg>
<div class="lbl" style="left:1077px;top:460px">12:5f:ff:46:d...</div>
<div class="sep" style="left:587px;top:418px;height:24px"></div>
<div class="card" style="left:1201px;top:349px;width:703px;height:145px"></div>
<div class="t b" style="left:1218px;top:370px">Most Active Access Points</div>
<div class="t link" style="right:33px;top:370px">See All</div>
<svg class="dev" style="left:1230px;top:406px" viewBox="0 0 48 48"><rect x="1" y="1" width="46" height="46" rx="6.5" fill="#141414"/><path d="M24.0 1.1 H40.699999999999996 A6.2 6.2 0 0 1 46.9 7.300000000000001 V40.699999999999996 A6.2 6.2 0 0 1 40.699999999999996 46.9 H7.300000000000001 A6.2 6.2 0 0 1 1.1 40.699999999999996 V7.300000000000001 A6.2 6.2 0 0 1 7.300000000000001 1.1 Z" fill="none" stroke="#0a6af5" stroke-width="2.2"/><defs><radialGradient id="apg" cx="0.5" cy="0.4" r="0.6"><stop offset="0" stop-color="#fdfdfd"/><stop offset="0.7" stop-color="#f1f1f2"/><stop offset="1" stop-color="#d4d4d8"/></radialGradient></defs><circle cx="24" cy="23.8" r="17.3" fill="url(#apg)"/><circle cx="24" cy="23.9" r="6.7" fill="none" stroke="#1aa6f2" stroke-width="1.1"/><path d="M22.4 23 V24.6 Q22.4 26 24 26 Q25.6 26 25.6 24.6 V22.4" fill="none" stroke="#cfcfd3" stroke-width="0.8"/></svg>
<div class="lbl" style="left:1254px;top:460px">Wohnzimmer</div>
<!-- chart card -->
<div class="card" style="left:482px;top:510px;width:1422px;height:446px"></div>
<div class="t" style="left:499px;top:541px"><b>All Access Points</b> <span style="color:#d6d6da;margin-left:1px">(1 Total)</span></div>
<svg class="abs" style="left:684px;top:542px" width="14" height="12" viewBox="0 0 14 12"><path d="M3 4 L7 7.6 L11 4" fill="none" stroke="#b8b8bc" stroke-width="1.05" stroke-linecap="round" stroke-linejoin="round"/></svg>
<div class="sep" style="left:715px;top:540px;height:20px"></div>
<div class="t b" style="left:732px;top:530px">WiFi Experience</div>
<div class="t" style="left:732px;top:553px"><span class="green">Excellent (96%)</span> <span class="g2">/ 96% Avg</span></div>
<div class="sep" style="left:913px;top:540px;height:20px"></div>
<div class="t b" style="left:929px;top:530px">Wireless Clients</div>
<div class="t" style="left:929px;top:553px"><span class="green">8 Now</span><span class="g2">&nbsp; / &nbsp;</span><span class="g2" style="margin-left:0.6px">10 Total</span></div>
<div class="abs" style="left:1645px;top:536px;width:39px;height:28px;border-radius:14px;background:#0560dc"></div>
<div class="t" style="left:1657px;top:542px;color:#fff">All</div>
<div class="t g" style="left:1696px;top:542px">2.4 GHz</div>
<div class="t g" style="left:1771.4px;top:542px">5 GHz</div>
<div class="t g" style="left:1835px;top:542px">6 GHz</div>
<svg class="abs" style="left:525px;top:607px" width="1316" height="303" viewBox="525 607 1316 303"><defs><linearGradient id="ag" x1="0" y1="0" x2="0" y2="1"><stop offset="0" stop-color="#216c3a"/><stop offset="0.2" stop-color="#1d6750"/><stop offset="0.4" stop-color="#176062"/><stop offset="0.6" stop-color="#125874"/><stop offset="0.8" stop-color="#0b4d8a"/><stop offset="1" stop-color="#04419c"/></linearGradient></defs><path d="M526.00 608 V909 M580.75 608 V909 M635.50 608 V909 M690.25 608 V909 M745.00 608 V909 M799.75 608 V909 M854.50 608 V909 M909.25 608 V909 M964.00 608 V909 M1018.75 608 V909 M1073.50 608 V909 M1128.25 608 V909 M1183.00 608 V909 M1237.75 608 V909 M1292.50 608 V909 M1347.25 608 V909 M1402.00 608 V909 M1456.75 608 V909 M1511.50 608 V909 M1566.25 608 V909 M1621.00 608 V909 M1675.75 608 V909 M1730.50 608 V909 M1785.25 608 V909 M1840.00 608 V909 M526 608.00 H1840 M526 638.10 H1840 M526 668.20 H1840 M526 698.30 H1840 M526 728.40 H1840 M526 758.50 H1840 M526 788.60 H1840 M526 818.70 H1840 M526 848.80 H1840 M526 878.90 H1840 M526 909.00 H1840 " stroke="#ffffff" stroke-opacity="0.085" stroke-width="1" fill="none"/><clipPath id="acl"><path d="M1675.8 617.3 L1684.5 622.8 L1689.6 620.3 L1694.7 622.8 L1698.9 622.8 L1704.0 620.0 L1739.5 620.0 L1743.7 617.3 L1748.0 620.0 L1758.4 620.0 L1762.6 617.3 L1766.8 620.0 L1771.8 620.0 L1776.0 617.3 L1780.4 620.0 L1840.0 620.0 L1840.0 909.0 L1675.8 909.0 Z"/></clipPath><path d="M1675.8 617.3 L1684.5 622.8 L1689.6 620.3 L1694.7 622.8 L1698.9 622.8 L1704.0 620.0 L1739.5 620.0 L1743.7 617.3 L1748.0 620.0 L1758.4 620.0 L1762.6 617.3 L1766.8 620.0 L1771.8 620.0 L1776.0 617.3 L1780.4 620.0 L1840.0 620.0 L1840.0 909.0 L1675.8 909.0 Z" fill="url(#ag)"/><rect x="1676" y="904" width="3" height="5" fill="#90b0d8"/><rect x="1676" y="898" width="3" height="5" fill="#90b0d8"/><rect x="1676" y="892" width="3" height="5" fill="#90b0d8"/><rect x="1676" y="886" width="3" height="5" fill="#90b0d8"/><rect x="1676" y="880" width="3" height="5" fill="#90b0d8"/><rect x="1680" y="904" width="4" height="5" fill="#90b0d8"/><rect x="1680" y="898" width="4" height="5" fill="#90b0d8"/><rect x="1680" y="892" width="4" height="5" fill="#90b0d8"/><rect x="1680" y="886" width="4" height="5" fill="#90b0d8"/><rect x="1680" y="880" width="4" height="5" fill="#90b0d8"/><rect x="1680" y="874" width="4" height="5" fill="#90b0d8"/><rect x="1680" y="868" width="4" height="5" fill="#90b0d8"/><rect x="1680" y="862" width="4" height="5" fill="#90b0d8"/><rect x="1680" y="856" width="4" height="5" fill="#90b0d8"/><rect x="1735" y="904" width="4" height="5" fill="#90b0d8"/><rect x="1735" y="898" width="4" height="5" fill="#90b0d8"/><rect x="1735" y="892" width="4" height="5" fill="#90b0d8"/><rect x="1735" y="886" width="4" height="5" fill="#90b0d8"/><rect x="1735" y="880" width="4" height="5" fill="#90b0d8"/><rect x="1735" y="874" width="4" height="5" fill="#90b0d8"/><rect x="1735" y="868" width="4" height="5" fill="#90b0d8"/><rect x="1735" y="862" width="4" height="5" fill="#90b0d8"/><rect x="1735" y="856" width="4" height="5" fill="#90b0d8"/><rect x="1790" y="904" width="4" height="5" fill="#90b0d8"/><rect x="1790" y="898" width="4" height="5" fill="#90b0d8"/><rect x="1790" y="892" width="4" height="5" fill="#90b0d8"/><rect x="1790" y="886" width="4" height="5" fill="#90b0d8"/><rect x="1790" y="880" width="4" height="5" fill="#90b0d8"/><rect x="1790" y="874" width="4" height="5" fill="#90b0d8"/><rect x="1790" y="868" width="4" height="5" fill="#90b0d8"/><rect x="1790" y="862" width="4" height="5" fill="#90b0d8"/><rect x="1790" y="856" width="4" height="5" fill="#90b0d8"/><path d="M526.00 608 V909 M580.75 608 V909 M635.50 608 V909 M690.25 608 V909 M745.00 608 V909 M799.75 608 V909 M854.50 608 V909 M909.25 608 V909 M964.00 608 V909 M1018.75 608 V909 M1073.50 608 V909 M1128.25 608 V909 M1183.00 608 V909 M1237.75 608 V909 M1292.50 608 V909 M1347.25 608 V909 M1402.00 608 V909 M1456.75 608 V909 M1511.50 608 V909 M1566.25 608 V909 M1621.00 608 V909 M1675.75 608 V909 M1730.50 608 V909 M1785.25 608 V909 M1840.00 608 V909 M526 608.00 H1840 M526 638.10 H1840 M526 668.20 H1840 M526 698.30 H1840 M526 728.40 H1840 M526 758.50 H1840 M526 788.60 H1840 M526 818.70 H1840 M526 848.80 H1840 M526 878.90 H1840 M526 909.00 H1840 " stroke="#ffffff" stroke-opacity="0.05" stroke-width="1" fill="none" clip-path="url(#acl)"/></svg>
<div class="ax" style="right:1408px;top:597px">50</div>
<div class="ax" style="right:1408px;top:657px">40</div>
<div class="ax" style="right:1408px;top:717px">30</div>
<div class="ax" style="right:1408px;top:778px">20</div>
<div class="ax" style="right:1408px;top:838px">10</div>
<div class="ax" style="right:1408px;top:898px">0</div>
<div class="ax" style="left:1856px;top:597px;color:#35b04a">100%</div>
<div class="ax" style="left:1856px;top:657px;color:#2fa878">80%</div>
<div class="ax" style="left:1856px;top:717px;color:#25a0a0">60%</div>
<div class="ax" style="left:1856px;top:778px;color:#1a8cd0">40%</div>
<div class="ax" style="left:1856px;top:838px;color:#0f76f0">20%</div>
<div class="ax" style="left:1856px;top:898px;color:#0a62ff">0%</div>
<div class="ax xl" style="left:526px;top:918px">21:00</div>
<div class="ax xl" style="left:854.5px;top:918px;transform:translateX(-50%)">3:00</div>
<div class="ax xl" style="left:1183.0px;top:918px;transform:translateX(-50%)">9:00</div>
<div class="ax xl" style="left:1511.5px;top:918px;transform:translateX(-50%)">15:00</div>
<div class="ax xl" style="right:80px;top:918px">Now</div>

</body>
</html>
